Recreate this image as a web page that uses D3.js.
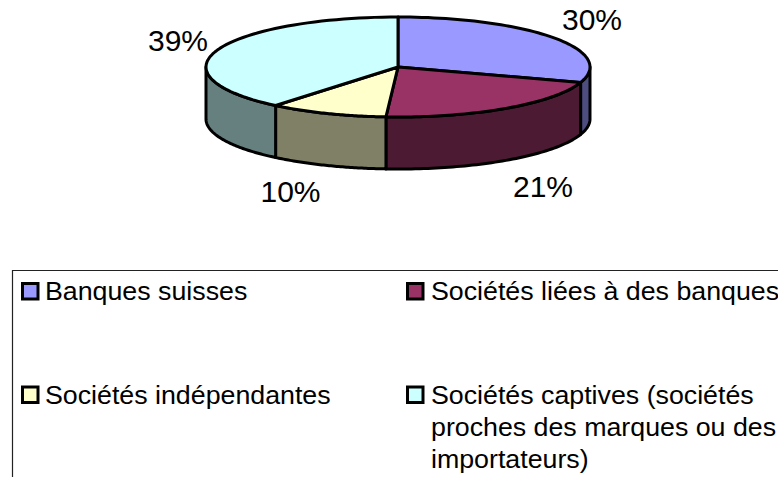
<!DOCTYPE html>
<html><head><meta charset="utf-8">
<script src="https://cdn.jsdelivr.net/npm/d3@7"></script>
<style>html,body{margin:0;background:#fff}svg{display:block}text{font-family:"Liberation Sans",Arial,sans-serif;fill:#000}</style>
</head><body><div id="c"></div>
<script>
const categories=["Banques suisses","Sociétés liées à des banques","Sociétés indépendantes","Sociétés captives (sociétés proches des marques ou des importateurs)"];
const values=[30,21,10,39];
const topColors=["#9999FF","#993366","#FFFFCC","#CCFFFF"];
const sideColors=["#4D4D80","#4D1A33","#808066","#668080"];
const pctLabels=["30%","21%","10%","39%"];
const legendLines=[["Banques suisses"],["Sociétés liées à des banques"],["Sociétés indépendantes"],["Sociétés captives (sociétés","proches des marques ou des","importateurs)"]];

const W=778,H=477,cx=398,cy=67,rx=192,ry=50,depth=52;
const svg=d3.select("#c").append("svg").attr("width",W).attr("height",H);
const arcs=d3.pie().sort(null).value(d=>d)(values);
const pt=(t,dy=0)=>[cx+rx*Math.sin(t),cy-ry*Math.cos(t)+dy];
const samples=(a,b)=>d3.range(0,61).map(i=>a+(b-a)*i/60);
const line=d3.line();
const g=svg.append("g").attr("stroke","#000").attr("stroke-width",3).attr("stroke-linejoin","round");

// side walls: only the front half of the rim (t between 90deg and 270deg) is visible
const lo=Math.PI/2,hi=Math.PI*1.5;
arcs.forEach((a,i)=>{
  const s=Math.max(a.startAngle,lo),e=Math.min(a.endAngle,hi);
  if(e<=s)return;
  const ts=samples(s,e);
  const p=[...ts.map(t=>pt(t)),...ts.slice().reverse().map(t=>pt(t,depth))];
  g.append("path").attr("d",line(p)+"Z").attr("fill",sideColors[i]);
});
// top face
arcs.forEach((a,i)=>{
  const p=[[cx,cy],...samples(a.startAngle,a.endAngle).map(t=>pt(t))];
  g.append("path").attr("d",line(p)+"Z").attr("fill",topColors[i]);
});

// percent labels
const labelPos=[[592,30],[543,197],[290.5,202],[178,50.5]];
pctLabels.forEach((l,i)=>svg.append("text").attr("x",labelPos[i][0]).attr("y",labelPos[i][1])
  .attr("text-anchor","middle").attr("font-size",30).text(l));

// legend, clipped by the page edge on the right and bottom
svg.append("path").attr("d",d3.line()([[12.5,477],[12.5,270.5],[778,270.5]])).attr("fill","none").attr("stroke","#222").attr("stroke-width",1.2);
const col=[21,406],row=[282,385.5],tx=[45,431],lh=32;
categories.forEach((c,i)=>{
  const cc=i%2,rr=Math.floor(i/2);
  svg.append("rect").attr("x",col[cc]+1.5).attr("y",row[rr]+1.5).attr("width",15.5).attr("height",15.5)
    .attr("fill",topColors[i]).attr("stroke","#000").attr("stroke-width",3);
  legendLines[i].forEach((t,j)=>svg.append("text")
    .attr("transform",`translate(${tx[cc]},${Math.round(row[rr])+18+j*lh}) scale(1.05,1)`)
    .attr("font-size",25.5).text(t));
});
</script></body></html>
